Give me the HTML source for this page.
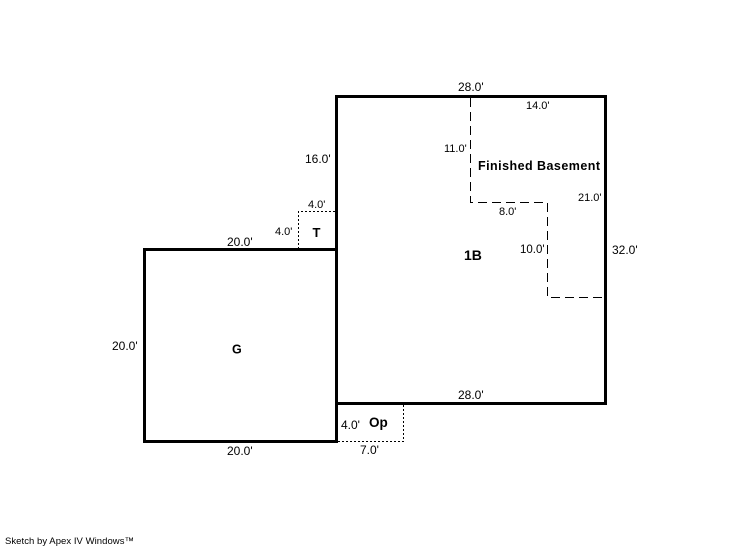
<!DOCTYPE html>
<html>
<head>
<meta charset="utf-8">
<style>
html,body{margin:0;padding:0;background:#fff;}
svg{display:block;}
text{font-family:"Liberation Sans",Arial,sans-serif;fill:#000;}
.d{font-size:12px;}
.b{font-size:13px;font-weight:bold;}
</style>
</head>
<body>
<svg width="746" height="547" viewBox="0 0 746 547" xmlns="http://www.w3.org/2000/svg">
<g fill="none" stroke="#000">
<rect x="336.5" y="96.5" width="269" height="307" stroke-width="3"/>
<path d="M336.5 249.500H144.500V441.500H336.500V403" stroke-width="3"/>
<path d="M470.500 98V202.500H547.500V297.500H604" stroke-width="1" stroke-dasharray="9,5"/>
<path d="M298.500 249V211.500H335" stroke-width="1" stroke-dasharray="2,2"/>
<path d="M403.500 405V441.500H338" stroke-width="1" stroke-dasharray="2,2"/>
</g>
<text class="d" x="458" y="91">28.0'</text>
<text class="d" x="526" y="109" style="font-size:11px">14.0'</text>
<text class="d" x="444" y="152" style="font-size:11px">11.0'</text>
<text class="d" x="305" y="163">16.0'</text>
<text class="b" x="478" y="170" textLength="122" lengthAdjust="spacing" style="font-size:12.500px">Finished Basement</text>
<text class="d" x="578" y="201" style="font-size:11px">21.0'</text>
<text class="d" x="499" y="215" style="font-size:11px">8.0'</text>
<text class="d" x="308" y="208" style="font-size:11px">4.0'</text>
<text class="d" x="275" y="235" style="font-size:11px">4.0'</text>
<text class="b" x="312.500" y="237">T</text>
<text class="d" x="227" y="246">20.0'</text>
<text class="d" x="520" y="253" style="font-size:11.500px">10.0'</text>
<text class="d" x="612" y="254">32.0'</text>
<text class="b" x="464" y="260" style="font-size:14px">1B</text>
<text class="d" x="112" y="350">20.0'</text>
<text class="b" x="232" y="353.500" style="font-size:12.500px">G</text>
<text class="d" x="458" y="399">28.0'</text>
<text class="d" x="341" y="429">4.0'</text>
<text class="b" x="369" y="427" style="font-size:13.500px">Op</text>
<text class="d" x="227" y="455">20.0'</text>
<text class="d" x="360" y="454">7.0'</text>
<text x="5" y="544" textLength="129" lengthAdjust="spacing" style="font-size:9.500px">Sketch by Apex IV Windows™</text>
</svg>
</body>
</html>
